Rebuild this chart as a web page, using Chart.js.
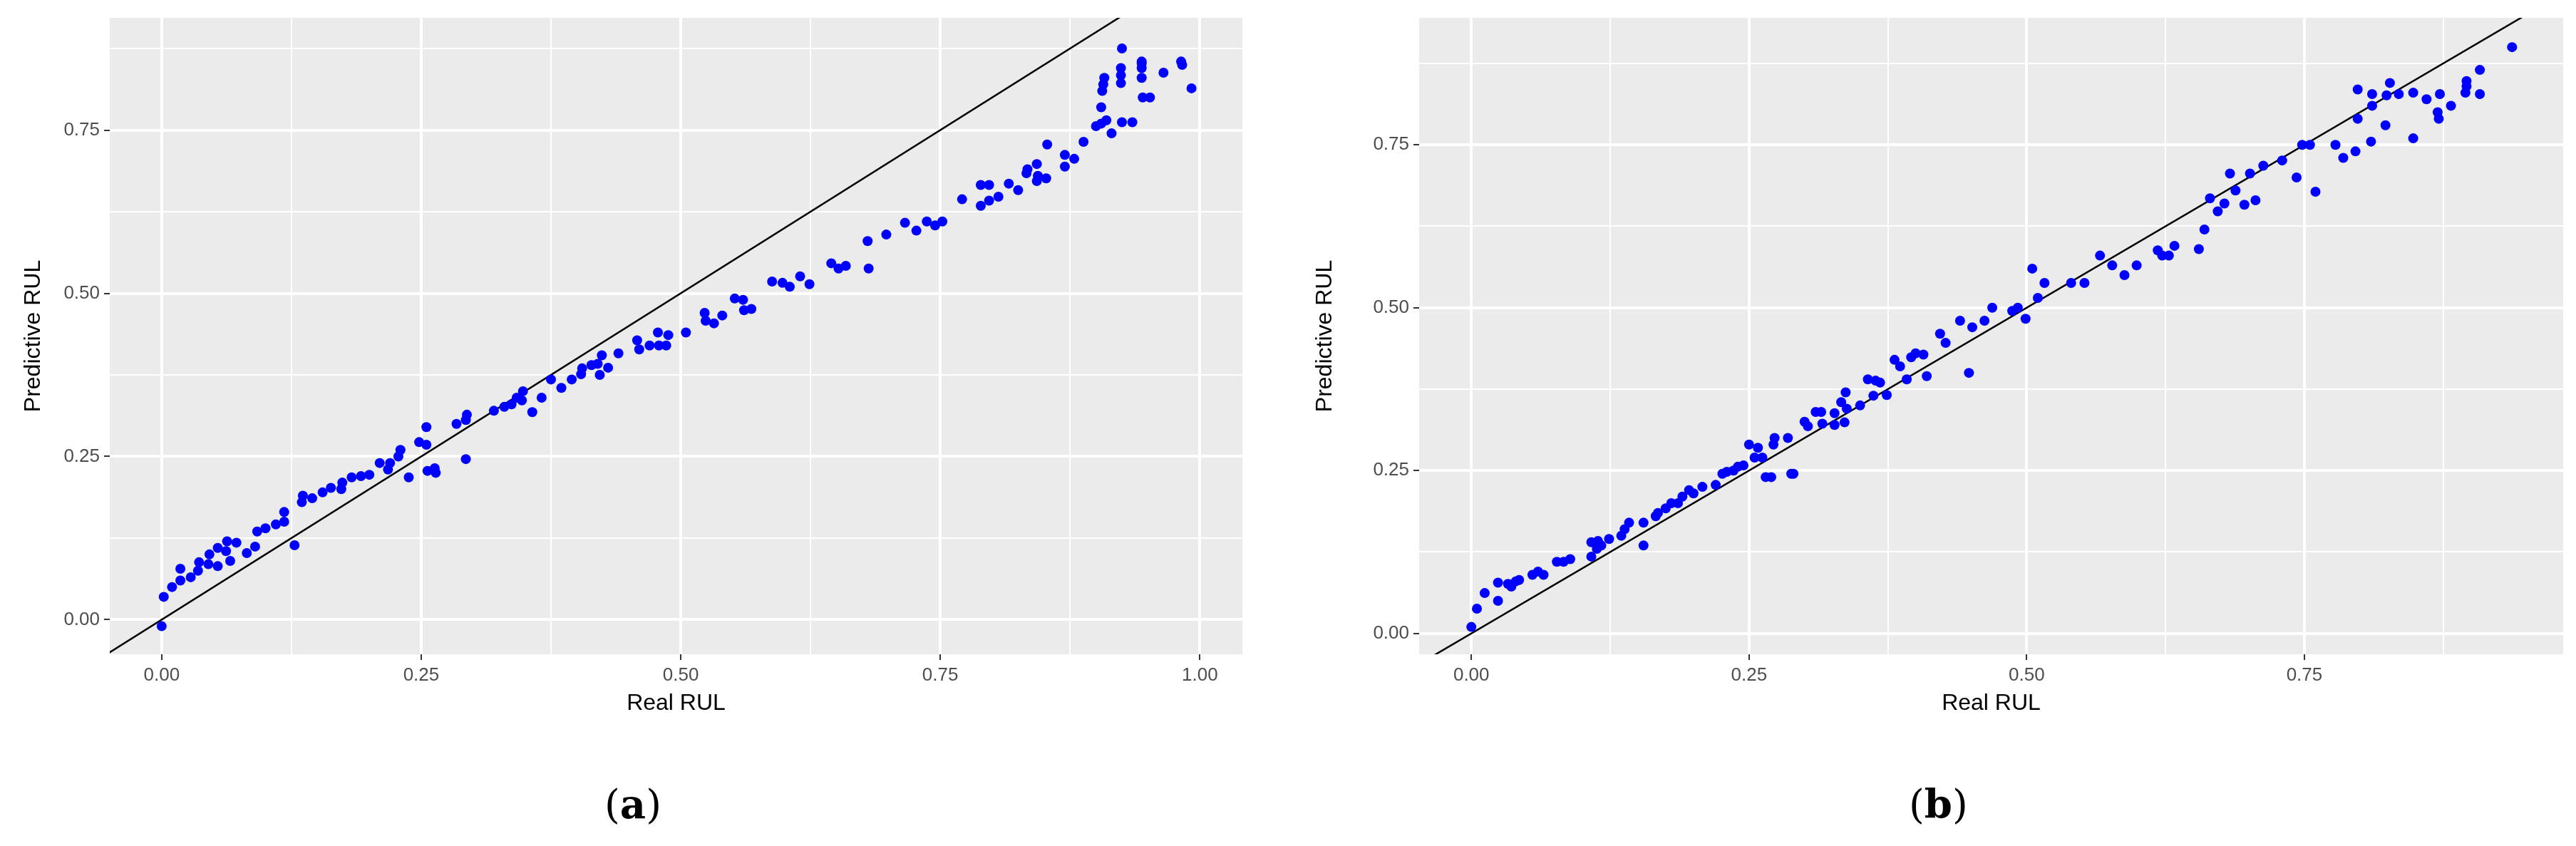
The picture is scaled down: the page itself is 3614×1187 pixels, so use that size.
<!DOCTYPE html>
<html>
<head>
<meta charset="utf-8">
<script src="https://cdn.jsdelivr.net/npm/chart.js@4"></script>
<style>
  body { margin: 0; background: #fff; width: 3614px; height: 1187px; position: relative; overflow: hidden; }
  .box { position: absolute; top: 0; height: 1010px; }
  .cap { position: absolute; top: 1095px; font-family: "DejaVu Serif", "Liberation Serif", serif; font-size: 56px; }
</style>
</head>
<body>
<div class="box" style="left:0;width:1780px"><canvas id="chart-a"></canvas></div>
<div class="box" style="left:1800px;width:1814px"><canvas id="chart-b"></canvas></div>
<div class="cap" style="left:848px">(<b>a</b>)</div>
<div class="cap" style="left:2678px">(<b>b</b>)</div>
<script>
// panel (a): [Real RUL, Predictive RUL]
const pointsA = [
  [0.00,-0.01],[0.002,0.035],[0.01,0.05],[0.018,0.06],[0.018,0.078],[0.028,0.065],[0.035,0.075],[0.036,0.088],
  [0.045,0.085],[0.046,0.10],[0.054,0.11],[0.054,0.082],[0.062,0.105],[0.063,0.12],[0.066,0.09],[0.072,0.118],
  [0.082,0.102],[0.09,0.112],[0.092,0.135],[0.1,0.14],[0.11,0.146],[0.118,0.15],[0.118,0.165],[0.128,0.114],
  [0.135,0.18],[0.136,0.19],[0.145,0.186],[0.155,0.195],[0.163,0.202],[0.173,0.2],[0.174,0.21],[0.183,0.218],
  [0.192,0.22],[0.2,0.222],[0.21,0.24],[0.218,0.23],[0.22,0.24],[0.228,0.25],[0.23,0.26],[0.238,0.218],
  [0.248,0.272],[0.255,0.268],[0.255,0.295],[0.256,0.228],[0.263,0.232],[0.264,0.225],[0.284,0.3],[0.293,0.306],
  [0.294,0.314],[0.293,0.246],[0.32,0.32],[0.33,0.326],[0.337,0.33],[0.342,0.34],[0.347,0.336],[0.348,0.35],
  [0.357,0.318],[0.366,0.34],[0.375,0.368],[0.385,0.355],[0.395,0.368],[0.404,0.376],[0.405,0.385],[0.414,0.39],
  [0.42,0.392],[0.422,0.375],[0.424,0.405],[0.43,0.386],[0.44,0.408],[0.458,0.428],[0.46,0.414],[0.47,0.42],
  [0.478,0.44],[0.479,0.42],[0.486,0.42],[0.488,0.436],[0.505,0.44],[0.523,0.47],[0.524,0.458],[0.532,0.454],
  [0.54,0.466],[0.552,0.492],[0.56,0.49],[0.561,0.474],[0.568,0.476],[0.588,0.518],[0.598,0.516],[0.605,0.51],
  [0.615,0.526],[0.624,0.514],[0.645,0.546],[0.652,0.538],[0.659,0.542],[0.68,0.58],[0.681,0.538],[0.698,0.59],
  [0.716,0.608],[0.727,0.596],[0.737,0.61],[0.745,0.604],[0.752,0.61],[0.771,0.644],[0.789,0.666],[0.789,0.634],
  [0.797,0.666],[0.797,0.642],[0.806,0.648],[0.816,0.668],[0.825,0.658],[0.833,0.684],[0.834,0.69],[0.843,0.698],
  [0.843,0.672],[0.844,0.68],[0.852,0.676],[0.853,0.728],[0.87,0.694],[0.87,0.712],[0.879,0.706],[0.888,0.732],
  [0.9,0.756],[0.905,0.76],[0.905,0.785],[0.906,0.81],[0.907,0.82],[0.908,0.83],[0.91,0.765],[0.915,0.745],
  [0.924,0.822],[0.924,0.834],[0.924,0.845],[0.925,0.875],[0.925,0.762],[0.935,0.762],[0.944,0.83],[0.944,0.845],
  [0.944,0.852],[0.944,0.855],[0.945,0.8],[0.952,0.8],[0.965,0.838],[0.982,0.855],[0.983,0.85],[0.992,0.814]
];

// panel (b)
const pointsB = [
  [0.00,0.01],[0.005,0.038],[0.012,0.062],[0.024,0.05],[0.024,0.078],[0.033,0.076],[0.036,0.072],[0.04,0.08],
  [0.043,0.082],[0.055,0.09],[0.06,0.095],[0.065,0.09],[0.077,0.11],[0.083,0.11],[0.089,0.114],[0.108,0.118],
  [0.108,0.14],[0.113,0.13],[0.114,0.142],[0.117,0.135],[0.124,0.145],[0.135,0.15],[0.138,0.16],[0.142,0.17],
  [0.155,0.135],[0.155,0.17],[0.166,0.18],[0.168,0.185],[0.175,0.192],[0.18,0.2],[0.186,0.2],[0.19,0.21],
  [0.196,0.22],[0.2,0.215],[0.208,0.225],[0.22,0.228],[0.226,0.245],[0.23,0.248],[0.236,0.25],[0.24,0.256],
  [0.245,0.258],[0.25,0.29],[0.255,0.27],[0.258,0.285],[0.262,0.27],[0.265,0.24],[0.27,0.24],[0.272,0.29],
  [0.273,0.3],[0.285,0.3],[0.288,0.245],[0.29,0.245],[0.3,0.325],[0.303,0.318],[0.31,0.34],[0.315,0.34],
  [0.316,0.322],[0.327,0.32],[0.327,0.338],[0.333,0.355],[0.336,0.324],[0.337,0.37],[0.338,0.345],[0.35,0.35],
  [0.357,0.39],[0.362,0.365],[0.364,0.388],[0.368,0.385],[0.374,0.366],[0.381,0.42],[0.386,0.41],[0.392,0.39],
  [0.396,0.424],[0.4,0.43],[0.407,0.428],[0.41,0.395],[0.422,0.46],[0.427,0.446],[0.44,0.48],[0.448,0.4],
  [0.451,0.47],[0.462,0.48],[0.469,0.5],[0.487,0.495],[0.492,0.5],[0.499,0.483],[0.505,0.56],[0.51,0.515],
  [0.516,0.538],[0.54,0.538],[0.552,0.538],[0.566,0.58],[0.577,0.565],[0.588,0.55],[0.599,0.565],[0.618,0.588],
  [0.622,0.58],[0.628,0.58],[0.633,0.595],[0.655,0.59],[0.66,0.62],[0.665,0.668],[0.672,0.648],[0.678,0.66],
  [0.683,0.706],[0.688,0.68],[0.696,0.658],[0.701,0.706],[0.706,0.665],[0.713,0.718],[0.73,0.726],[0.743,0.7],
  [0.748,0.75],[0.755,0.75],[0.76,0.678],[0.778,0.75],[0.785,0.73],[0.796,0.74],[0.798,0.79],[0.798,0.835],
  [0.81,0.755],[0.811,0.81],[0.811,0.828],[0.823,0.78],[0.824,0.826],[0.827,0.845],[0.835,0.828],[0.848,0.76],
  [0.848,0.83],[0.86,0.82],[0.87,0.8],[0.871,0.79],[0.872,0.828],[0.882,0.81],[0.895,0.83],[0.896,0.84],
  [0.896,0.848],[0.908,0.828],[0.908,0.865],[0.937,0.9]
];

const identityLine = [[-0.2,-0.2],[1.2,1.2]];
const gridValues = [0, 0.125, 0.25, 0.375, 0.5, 0.625, 0.75, 0.875, 1.0];
const majorTicks = [0, 0.25, 0.5, 0.75, 1.0];

function axis(min, max, title, size, titlePad) {
  return {
    type: 'linear', min: min, max: max,
    afterBuildTicks: s => { s.ticks = gridValues.filter(v => v >= min && v <= max).map(v => ({ value: v })); },
    ticks: {
      autoSkip: false, color: '#4d4d4d', font: { family: 'Liberation Sans', size: 26 },
      callback: v => majorTicks.includes(v) ? v.toFixed(2) : '', padding: 6
    },
    grid: {
      color: '#ffffff',
      lineWidth: c => majorTicks.includes(c.tick.value) ? 4 : 2,
      drawTicks: true, tickLength: 8,
      tickColor: c => majorTicks.includes(c.tick.value) ? '#333333' : 'rgba(0,0,0,0)',
      tickWidth: 2
    },
    border: { display: false },
    title: { display: true, text: title, color: '#000', padding: titlePad, font: { family: 'Liberation Sans', size: 32 } },
    afterFit: size
  };
}

const bgPlugin = {
  id: 'panelBg',
  beforeDraw(chart) {
    const a = chart.chartArea, ctx = chart.ctx;
    ctx.save(); ctx.fillStyle = '#ebebeb';
    ctx.fillRect(a.left, a.top, a.right - a.left, a.bottom - a.top);
    ctx.restore();
  }
};

function makeChart(id, points, xr, yr, yWidth, rightPad, yTitleLeft) {
  new Chart(document.getElementById(id), {
    type: 'scatter',
    data: {
      datasets: [
        { data: points.map(p => ({ x: p[0], y: p[1] })), backgroundColor: '#0000ff', borderWidth: 0, pointRadius: 7 },
        { type: 'line', data: identityLine.map(p => ({ x: p[0], y: p[1] })), borderColor: '#000', borderWidth: 2.5, pointRadius: 0 }
      ]
    },
    options: {
      responsive: true, maintainAspectRatio: false, animation: false,
      layout: { padding: { top: 25, right: rightPad } },
      plugins: { legend: { display: false }, tooltip: { enabled: false } },
      scales: {
        x: axis(xr[0], xr[1], 'Real RUL', s => { s.height = 92; }, { top: 4, bottom: 4 }),
        y: axis(yr[0], yr[1], 'Predictive RUL', s => { s.width = yWidth; }, { top: yTitleLeft, bottom: 4 })
      }
    },
    plugins: [bgPlugin]
  });
}

makeChart('chart-a', pointsA, [-0.05, 1.041], [-0.053, 0.922], 154, 37, 28);
makeChart('chart-b', pointsB, [-0.047, 0.983], [-0.032, 0.945], 191, 18, 40);
</script>
</body>
</html>
